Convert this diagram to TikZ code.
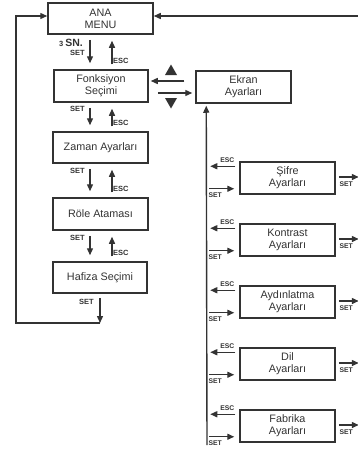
\documentclass[tikz,border=0pt]{standalone}
\usepackage{fontspec}
\setmainfont{Liberation Sans}
\usetikzlibrary{arrows.meta,calc}
\definecolor{dk}{gray}{0.2}
\begin{document}
\begin{tikzpicture}[x=1pt,y=-1pt,
  box/.style={draw=dk, line width=1.5pt, inner sep=0pt, font=\fontsize{10.8}{12}\selectfont, align=center, text=dk, minimum width=95pt, minimum height=32pt},
  conn/.style={draw=dk, line width=1.4pt, -{Triangle[length=7pt,width=6pt]}},
  plain/.style={draw=dk, line width=1.4pt},
  lbl/.style={font=\bfseries\fontsize{7.5}{8}\selectfont, inner sep=0pt, text=dk},
  slbl/.style={font=\bfseries\fontsize{6.8}{7}\selectfont, inner sep=0pt, text=dk},
  tri/.style={fill=dk},
]
\useasboundingbox (0,0) rectangle (358,450);
% left column boxes
\node[box, minimum width=105pt, minimum height=31pt] (ana) at (100.5,18.5) {ANA\\MENU};
\node[box, minimum width=94pt] (fon) at (101,86) {Fonksiyon\\Seçimi};
\node[box, minimum height=31pt] (zam) at (100.5,147.5) {Zaman Ayarları};
\node[box] (rol) at (100.5,214) {Röle Ataması};
\node[box, minimum width=94pt, minimum height=31pt] (haf) at (100,277.5) {Hafiza Seçimi};
% right column
\node[box] (ekr) at (243.5,87) {Ekran\\Ayarları};
\node[box] (s1) at (287.5,178) {Şifre\\Ayarları};
\node[box] (s2) at (287.5,240) {Kontrast\\Ayarları};
\node[box] (s3) at (287.5,302) {Aydınlatma\\Ayarları};
\node[box] (s4) at (287.5,364) {Dil\\Ayarları};
\node[box] (s5) at (287.5,426) {Fabrika\\Ayarları};
% helper coordinates
\coordinate (cd) at (90,0);
\coordinate (cu) at (112,0);
\coordinate (hb) at (100,323);
\coordinate (lb) at (16,323);
\coordinate (lt) at (16,16);
\coordinate (tr) at (358,16);
\coordinate (vb) at (207,445);
% vertical SET/ESC arrows in left column
\foreach \a/\b in {ana/fon, fon/zam, zam/rol, rol/haf}{
  \draw[conn] ($(\a.south -| cd)+(0,5)$) -- ($(\b.north -| cd)+(0,-6)$);
  \draw[conn] ($(\b.north -| cu)+(0,-5)$) -- ($(\a.south -| cu)+(0,6)$);
  \node[lbl, anchor=west] (esc\a) at ($(\b.north -| cu)+(1,-8.5)$) {ESC};
}
\node[lbl, anchor=east] (setana) at ($(ana.south -| cd)+(-5,18)$) {SET};
\node[anchor=base east, inner sep=0pt, text=dk] (snlbl) at ($(ana.south -| cd)+(-7,12)$) {\bfseries\fontsize{7.5}{8}\selectfont 3\ \fontsize{10.5}{11}\selectfont SN.};
\node[lbl, anchor=east] (setfon) at ($(fon.south -| cd)+(-5,6.5)$) {SET};
\node[lbl, anchor=east] (setzam) at ($(zam.south -| cd)+(-5,7.5)$) {SET};
\node[lbl, anchor=east] (setrol) at ($(rol.south -| cd)+(-5,7)$) {SET};
% Hafiza exit loop
\draw[conn] ($(haf.south)+(0,4)$) -- (hb);
\node[lbl, anchor=east] (sethaf) at ($(haf.south)+(-6,8)$) {SET};
\draw[conn] (hb) -- (lb) -- (lt) -- ($(ana.west)+(0,-2.5)$);
\draw[conn] (tr) -- ($(ana.east)+(0,-2.5)$);
% Fonksiyon <-> Ekran
\draw[conn] ($(ekr.west)+(-11,-6)$) -- ($(fon.east)+(2,-5)$);
\draw[conn] ($(fon.east)+(9,7)$) -- ($(ekr.west)+(-3,6)$);
\fill[tri] (171,64.5) -- (177,75) -- (165,75) -- cycle;
\fill[tri] (171,108.5) -- (177,98) -- (165,98) -- cycle;
% vertical return line to Ekran
\draw[conn] (vb) -- ($(ekr.south west)+(11,2)$);
% sub boxes arrows
\foreach \s in {s1,s2,s3,s4,s5}{
  \draw[conn] ($(\s.north west)+(-4,5)$) -- ($(\s.north west)+(-29,5)$);
  \node[slbl] (esc\s) at ($(\s.north west)+(-12,-1)$) {ESC};
  \draw[conn] ($(\s.south west)+(-30,-6)$) -- ($(\s.south west)+(-5,-6)$);
  \node[slbl] (set\s) at ($(\s.south west)+(-24,0.5)$) {SET};
  \coordinate (r\s) at ($(\s.east)+(23,-1)$);
  \draw[conn] ($(\s.east)+(3,-1)$) -- (r\s);
  \node[slbl] (rset\s) at ($(\s.east)+(10.5,6)$) {SET};
}
\end{tikzpicture}
\end{document}
